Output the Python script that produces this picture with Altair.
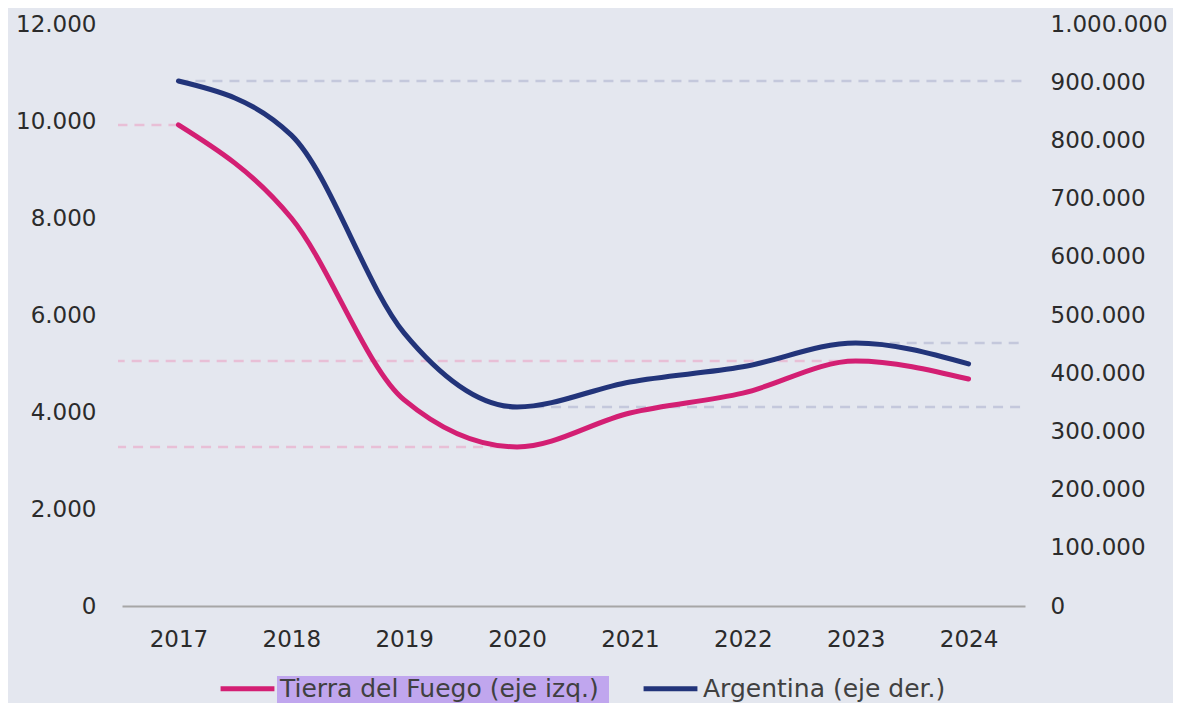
import altair as alt
import pandas as pd

years = ["2017", "2018", "2019", "2020", "2021", "2022", "2023", "2024"]
tdf = [9920, 8000, 4250, 3280, 3980, 4390, 5050, 4680]
arg = [902000, 809000, 469000, 342000, 385000, 411000, 452000, 416000]
series = ["Tierra del Fuego (eje izq.)", "Argentina (eje der.)"]
ref_years = ["2017", "2020", "2023"]
left_ticks = [0, 2000, 4000, 6000, 8000, 10000, 12000]
right_ticks = [0, 100000, 200000, 300000, 400000, 500000, 600000, 700000, 800000, 900000, 1000000]

PINK = "#d31f73"
NAVY = "#22347a"
BG = "#e4e7ef"
FONT = "DejaVu Sans"

df_t = pd.DataFrame({"year": years, "value": tdf, "serie": series[0]})
df_a = pd.DataFrame({"year": years, "value": arg, "serie": series[1]})
ref_t = df_t[df_t["year"].isin(ref_years)]
ref_a = df_a[df_a["year"].isin(ref_years)]

fmt_expr = "replace(format(datum.value, ',d'), /,/g, '.')"
x_scale = alt.Scale(type="point", padding=0.5, domain=years)
ls = alt.Scale(domain=[0, 12000], nice=False)
rs = alt.Scale(domain=[0, 1000000], nice=False)

x_enc = alt.X("year:N", sort=years, title=None, scale=x_scale,
              axis=alt.Axis(labelAngle=0, ticks=False, domain=True, domainColor="#a6a6a6",
                            domainWidth=2, labelPadding=22, labelFontSize=23,
                            labelColor="#2b2b2b", labelFont=FONT, grid=False))

color_enc = alt.Color("serie:N", scale=alt.Scale(domain=series, range=[PINK, NAVY]),
                      legend=alt.Legend(orient="none", legendX=96, legendY=635,
                                        direction="horizontal", title=None,
                                        symbolType="stroke", symbolStrokeWidth=5,
                                        symbolSize=2900, labelFontSize=25, labelFont=FONT,
                                        labelColor="#404040", labelOffset=3, columnPadding=34,
                                        labelLimit=500, zindex=2))

y_left = alt.Y("value:Q", title=None, scale=ls,
               axis=alt.Axis(orient="left", values=left_ticks, labelExpr=fmt_expr, domain=False,
                             ticks=False, grid=False, labelPadding=26, labelFontSize=23,
                             labelFont=FONT, labelColor="#2b2b2b"))
y_right = alt.Y("value:Q", title=None, scale=rs,
                axis=alt.Axis(orient="right", values=right_ticks, labelExpr=fmt_expr, domain=False,
                              ticks=False, grid=False, labelPadding=25, labelFontSize=23,
                              labelFont=FONT, labelColor="#2b2b2b"))

hl = alt.Chart(pd.DataFrame({"k": [0]})).mark_rect(color="#c0a6ee").encode(
    x=alt.value(155), x2=alt.value(487), y=alt.value(652), y2=alt.value(690))

rule_t = alt.Chart(ref_t).mark_rule(color="#e8bfd6", strokeWidth=2.5, strokeDash=[10, 7]).encode(
    x=x_enc, x2=alt.value(-4), y=alt.Y("value:Q", scale=ls, axis=None))
rule_a = alt.Chart(ref_a).mark_rule(color="#c4c8dc", strokeWidth=2.5, strokeDash=[10, 7]).encode(
    x=x_enc, x2=alt.value(903), y=alt.Y("value:Q", scale=rs, axis=None))
line_t = alt.Chart(df_t).mark_line(strokeWidth=5, strokeCap="round", interpolate="monotone").encode(
    x=x_enc, y=y_left, color=color_enc)
line_a = alt.Chart(df_a).mark_line(strokeWidth=5, strokeCap="round", interpolate="monotone").encode(
    x=x_enc, y=y_right, color=color_enc)

chart = alt.layer(hl, rule_t, rule_a, line_t, line_a).resolve_scale(y="independent").properties(
    width=903, height=582,
    background=BG,
    padding={"left": 114, "top": 16, "right": 148, "bottom": 97},
    autosize=alt.AutoSizeParams(type="none"),
).configure_view(stroke=None, fill=BG)

chart.save("out.html", embed_options={"renderer": "svg", "actions": False})
